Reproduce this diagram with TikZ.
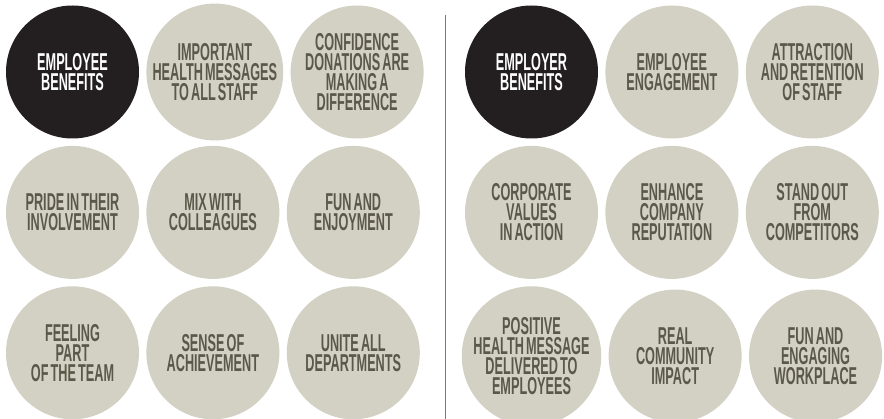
\documentclass[tikz,border=0pt]{standalone}
\usepackage{fontspec}
\newfontfamily\bubblefont{Liberation Sans}[FakeStretch=0.52,WordSpace=0.6]
\usetikzlibrary{positioning}
\usepackage{xcolor}
\definecolor{darkbubble}{HTML}{231F20}
\definecolor{lightbubble}{HTML}{D3D1C3}
\definecolor{bubbletext}{HTML}{5B5849}
\definecolor{divider}{HTML}{7A7A7A}

\begin{document}
\begin{tikzpicture}[
        x=1pt, y=1pt,
        node distance=7pt,
        every node/.style={circle, minimum size=133pt, inner sep=0pt, align=center,
            font=\bubblefont\bfseries\fontsize{24.4}{20}\selectfont},
        bubble/.style={fill=lightbubble, text=bubbletext},
        dark/.style={fill=darkbubble, text=white}
    ]
        \useasboundingbox (0,0) rectangle (884,-419);

        % employee side
        \node (a1) [dark] at (72.5,-72) {EMPLOYEE\\BENEFITS};
        \node (a2) [bubble, right=of a1] {IMPORTANT\\HEALTH MESSAGES\\TO ALL STAFF};
        \node (a3) [bubble, right=of a2] {CONFIDENCE\\DONATIONS ARE\\MAKING A\\DIFFERENCE};
        \node (a4) [bubble, below=of a1] {PRIDE IN THEIR\\INVOLVEMENT};
        \node (a5) [bubble, right=of a4] {MIX WITH\\COLLEAGUES};
        \node (a6) [bubble, right=of a5] {FUN AND\\ENJOYMENT};
        \node (a7) [bubble, below=of a4] {FEELING\\PART\\OF THE TEAM};
        \node (a8) [bubble, right=of a7] {SENSE OF\\ACHIEVEMENT};
        \node (a9) [bubble, right=of a8] {UNITE ALL\\DEPARTMENTS};

        % employer side
        \node (b1) [dark] at (531.5,-72) {EMPLOYER\\BENEFITS};
        \node (b2) [bubble, right=of b1] {EMPLOYEE\\ENGAGEMENT};
        \node (b3) [bubble, right=of b2] {ATTRACTION\\AND RETENTION\\OF STAFF};
        \node (b4) [bubble, below=of b1] {CORPORATE\\VALUES\\IN ACTION};
        \node (b5) [bubble, right=of b4] {ENHANCE\\COMPANY\\REPUTATION};
        \node (b6) [bubble, right=of b5] {STAND OUT\\FROM\\COMPETITORS};
        \node (b7) [bubble, below=of b4] {POSITIVE\\HEALTH MESSAGE\\DELIVERED TO\\EMPLOYEES};
        \node (b8) [bubble, right=of b7] {REAL\\COMMUNITY\\IMPACT};
        \node (b9) [bubble, right=of b8] {FUN AND\\ENGAGING\\WORKPLACE};

        % divider
        \coordinate (top) at (445.5,-15);
        \coordinate (bottom) at (445.5,-419);
        \draw[divider, line width=1.2pt] (top) -- (bottom);
    \end{tikzpicture}
\end{document}
